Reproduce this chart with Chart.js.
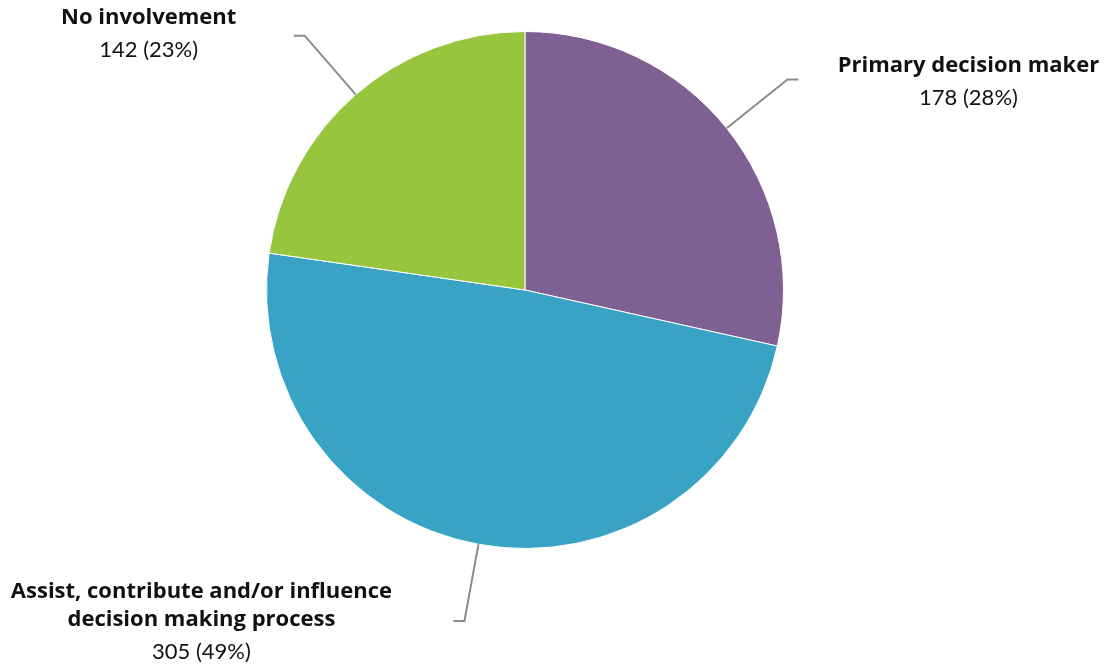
<!DOCTYPE html>
<html>
<head>
<meta charset="utf-8">
<title>Decision making involvement</title>
<script src="https://cdn.jsdelivr.net/npm/chart.js@4.4.1/dist/chart.umd.min.js"></script>
<style>
  html, body { margin: 0; padding: 0; background: #fff; }
  #wrap { width: 1114px; height: 665px; }
</style>
</head>
<body>
<div id="wrap"><canvas id="involvementChart" width="1114" height="665"></canvas></div>
<script>
// survey responses
const categories = ['Primary decision maker', 'Assist, contribute and/or influence decision making process', 'No involvement'];
const labelLines = [['Primary decision maker'], ['Assist, contribute and/or influence', 'decision making process'], ['No involvement']];
const counts = [178, 305, 142];
const sliceColors = ['#7E6093', '#38A3C4', '#98C53E'];

// where each text block sits relative to the end of its leader line
const labelOffsets = [
    { dx: 170, dy: 3 },
    { dx: -252, dy: 2 },
    { dx: -145, dy: -1 }
];

const total = counts.reduce((a, b) => a + b, 0);

const leaderLabels = {
    id: 'leaderLabels',
    afterDatasetsDraw(chart) {
        const ctx = chart.ctx;
        const arcs = chart.getDatasetMeta(0).data;
        ctx.save();
        arcs.forEach((arc, i) => {
            const mid = (arc.startAngle + arc.endAngle) / 2;
            const r = arc.outerRadius;
            const cx = arc.x, cy = arc.y;
            const x0 = cx + Math.cos(mid) * r;
            const y0 = cy + Math.sin(mid) * r;
            const x1 = cx + Math.cos(mid) * (r + 78);
            const y1 = cy + Math.sin(mid) * (r + 78);
            const dir = Math.cos(mid) >= 0 ? 1 : -1;
            const x2 = x1 + dir * 11;

            ctx.strokeStyle = '#8c8c8c';
            ctx.lineWidth = 2;
            ctx.beginPath();
            ctx.moveTo(x0, y0);
            ctx.lineTo(x1, y1);
            ctx.lineTo(x2, y1);
            ctx.stroke();

            const lines = labelLines[i];
            const pct = Math.round(counts[i] / total * 100);
            const tx = x2 + labelOffsets[i].dx;
            const blockH = lines.length * 28 + 34;
            let ty = y1 + labelOffsets[i].dy - blockH / 2 + 14;
            ctx.fillStyle = '#111';
            ctx.textAlign = 'center';
            ctx.textBaseline = 'middle';
            ctx.font = 'bold 22px "Open Sans"';
            lines.forEach(line => {
                ctx.fillText(line, tx, ty);
                ty += 28;
            });
            ty += 4;
            ctx.font = '22px Lato';
            ctx.fillText(counts[i] + ' (' + pct + '%)', tx, ty);
        });
        ctx.restore();
    }
};

const ctx = document.getElementById('involvementChart').getContext('2d');
new Chart(ctx, {
    type: 'pie',
    data: {
        labels: categories,
        datasets: [{
            data: counts,
            backgroundColor: sliceColors,
            borderColor: '#ffffff',
            borderWidth: 1
        }]
    },
    options: {
        responsive: false,
        animation: false,
        layout: { padding: { top: 31, bottom: 116, left: 266, right: 330 } },
        plugins: {
            legend: { display: false },
            tooltip: { enabled: false }
        }
    },
    plugins: [leaderLabels]
});
</script>
</body>
</html>
